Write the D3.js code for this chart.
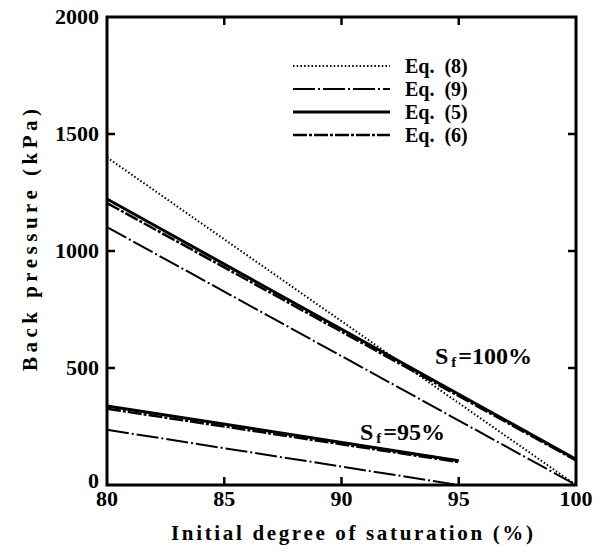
<!DOCTYPE html>
<html>
<head>
<meta charset="utf-8">
<script src="https://cdn.jsdelivr.net/npm/d3@7"></script>
<style>
  body { margin: 0; background: #fff; }
  text { font-family: "Liberation Serif", "DejaVu Serif", serif; font-weight: bold; fill: #000; }
</style>
</head>
<body>
<div id="chart"></div>
<script>
(function () {
  // [initial saturation %, back pressure kPa] at the ends of each line
  var eq8_100 = [[80, 1400], [100, 0]];
  var eq5_100 = [[80, 1222], [100, 110]];
  var eq6_100 = [[80, 1205], [100, 105]];
  var eq9_100 = [[80, 1102], [100, 0]];
  var eq5_95 = [[80, 338], [95, 104]];
  var eq6_95 = [[80, 326], [95, 98]];
  var eq9_95 = [[80, 236], [95, 0]];

  var xTicks = [80, 85, 90, 95, 100];
  var yTicks = [0, 500, 1000, 1500, 2000];
  var legendLabels = ["Eq.  (8)", "Eq.  (9)", "Eq.  (5)", "Eq.  (6)"];

  var w = 605,
      h = 558;

  var svg = d3.select("#chart")
      .append("svg")
      .attr("width", w)
      .attr("height", h);

  var x = d3.scaleLinear().domain([80, 100]).range([107, 576]);
  var y = d3.scaleLinear().domain([0, 2000]).range([485, 17]);

  var styles = {
    eq8: { width: 2, dash: "1.5,2.2" },
    eq9: { width: 2, dash: "22,3,2,3" },
    eq5: { width: 3, dash: null },
    eq6: { width: 2.5, dash: "14,2,3,2" }
  };

  var line = d3.line()
      .x(function(d) { return x(d[0]); })
      .y(function(d) { return y(d[1]); });

  var series = [
    [eq8_100, styles.eq8],
    [eq9_100, styles.eq9],
    [eq6_100, styles.eq6],
    [eq5_100, styles.eq5],
    [eq6_95, styles.eq6],
    [eq5_95, styles.eq5],
    [eq9_95, styles.eq9]
  ];

  svg.selectAll("path.series")
      .data(series)
      .enter()
      .append("path")
      .attr("class", "series")
      .attr("d", function(d) { return line(d[0]); })
      .attr("fill", "none")
      .attr("stroke", "#000")
      .attr("stroke-width", function(d) { return d[1].width; })
      .attr("stroke-dasharray", function(d) { return d[1].dash; });

  // frame with inward ticks
  svg.append("rect")
      .attr("x", x(80))
      .attr("y", y(2000))
      .attr("width", x(100) - x(80))
      .attr("height", y(0) - y(2000))
      .attr("fill", "none")
      .attr("stroke", "#000")
      .attr("stroke-width", 3);

  var tl = 8;
  var inner = [85, 90, 95];
  [[y(0), -tl], [y(2000), tl]].forEach(function(p) {
    svg.selectAll(null)
        .data(inner)
        .enter()
        .append("line")
        .attr("x1", function(d) { return x(d); })
        .attr("x2", function(d) { return x(d); })
        .attr("y1", p[0])
        .attr("y2", p[0] + p[1])
        .attr("stroke", "#000")
        .attr("stroke-width", 2.5);
  });

  var innerY = [500, 1000, 1500];
  [[x(80), tl], [x(100), -tl]].forEach(function(p) {
    svg.selectAll(null)
        .data(innerY)
        .enter()
        .append("line")
        .attr("x1", p[0])
        .attr("x2", p[0] + p[1])
        .attr("y1", function(d) { return y(d); })
        .attr("y2", function(d) { return y(d); })
        .attr("stroke", "#000")
        .attr("stroke-width", 2.5);
  });

  svg.selectAll("text.xl")
      .data(xTicks)
      .enter()
      .append("text")
      .text(function(d) { return d; })
      .attr("x", function(d) { return x(d); })
      .attr("y", 506)
      .attr("font-size", "22px")
      .attr("text-anchor", "middle");

  svg.selectAll("text.yl")
      .data(yTicks)
      .enter()
      .append("text")
      .text(function(d) { return d; })
      .attr("x", 99)
      .attr("y", function(d) { return y(d) + (d === 0 ? 3 : 7); })
      .attr("font-size", "22px")
      .attr("text-anchor", "end");

  svg.append("text")
      .text("Initial degree of saturation (%)")
      .attr("x", 352)
      .attr("y", 540)
      .attr("font-size", "21px")
      .attr("textLength", 362)
      .attr("lengthAdjust", "spacing")
      .attr("text-anchor", "middle");

  svg.append("text")
      .text("Back pressure (kPa)")
      .attr("transform", "translate(37,240) rotate(-90)")
      .attr("font-size", "21px")
      .attr("textLength", 262)
      .attr("lengthAdjust", "spacing")
      .attr("text-anchor", "middle");

  // legend
  var legendStyles = [styles.eq8, styles.eq9, styles.eq5, styles.eq6];
  var lg = svg.selectAll("g.legend")
      .data(legendLabels)
      .enter()
      .append("g")
      .attr("transform", function(d, i) { return "translate(0," + (66 + i * 23) + ")"; });
  lg.append("line")
      .attr("x1", 293)
      .attr("x2", 390)
      .attr("stroke", "#000")
      .attr("stroke-width", function(d, i) { return legendStyles[i].width; })
      .attr("stroke-dasharray", function(d, i) { return legendStyles[i].dash; });
  lg.append("text")
      .text(function(d) { return d; })
      .attr("x", 405)
      .attr("y", 7)
      .attr("font-size", "20px")
      .style("white-space", "pre");

  // annotations
  function sf(xp, yp, val) {
    var t = svg.append("text").attr("x", xp).attr("y", yp).attr("font-size", "24px");
    t.append("tspan").text("S");
    t.append("tspan").text("f").attr("font-size", "15px").attr("dx", 3).attr("dy", 3);
    t.append("tspan").text("=" + val).attr("dy", -3).attr("dx", 2);
  }
  sf(435, 364, "100%");
  sf(360, 440, "95%");
})();
</script>
</body>
</html>
